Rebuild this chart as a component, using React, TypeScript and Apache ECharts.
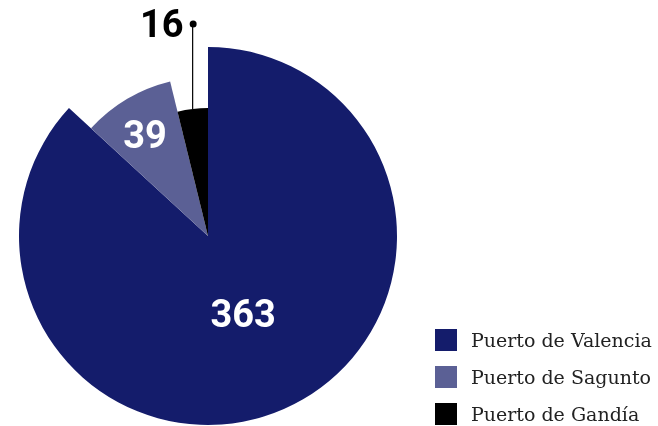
import React, { useEffect, useRef } from "react";
import * as echarts from "echarts";

const categories = ["Puerto de Valencia", "Puerto de Sagunto", "Puerto de Gandía"];
const values = [363, 39, 16];
const colors = ["#141c6b", "#5b6095", "#000000"];
const radii = [189, 159, 128];

export default function App() {
  const ref = useRef<HTMLDivElement>(null);
  useEffect(() => {
    if (!ref.current) return;
    const chart = echarts.init(ref.current, undefined, { renderer: "svg" });
    const series = categories.map((_, si) => ({
      type: "pie",
      center: [208, 236],
      radius: [0, radii[si]],
      startAngle: 90,
      clockwise: true,
      avoidLabelOverlap: false,
      silent: true,
      emphasis: { disabled: true },
      labelLayout:
        si === 2
          ? (params: any) => {
              const p = params.labelLinePoints ? params.labelLinePoints[0] : [193, 109];
              return {
                x: p[0] + 4,
                y: p[1] - 85,
                align: "right",
                verticalAlign: "middle",
                labelLinePoints: [
                  [p[0], p[1]],
                  [p[0], p[1] - 88],
                ],
              };
            }
          : si === 1
          ? () => ({ dx: -21, dy: -30 })
          : () => ({ dx: -4, dy: -11 }),
      data: categories.map((name, i) => {
        const visible = i === si;
        return {
          name,
          value: values[i],
          itemStyle: { color: visible ? colors[i] : "transparent" },
          label: visible
            ? si === 2
              ? {
                  show: true,
                  position: "outside",
                  formatter: "{v|{c}}{g|}{d|}",
                  rich: {
                    v: {
                      fontFamily: "Roboto",
                      fontWeight: "bold",
                      fontSize: 38,
                      color: "#000",
                      lineHeight: 40,
                    },
                    g: { width: 6 },
                    d: {
                      width: 7,
                      height: 7,
                      borderRadius: 4,
                      backgroundColor: "#000",
                      padding: 0,
                    },
                  },
                }
              : {
                  show: true,
                  position: "inside",
                  formatter: "{c}",
                  fontFamily: "Roboto",
                  fontWeight: "bold",
                  fontSize: 38,
                  color: "#ffffff",
                }
            : { show: false },
          labelLine:
            visible && si === 2
              ? { show: true, lineStyle: { color: "#000", width: 1.2 } }
              : { show: false },
        };
      }),
    }));
    chart.setOption({
      animation: false,
      legend: {
        orient: "vertical",
        left: 435,
        top: 329,
        padding: 0,
        itemWidth: 22,
        itemHeight: 22,
        itemGap: 15,
        icon: "rect",
        selectedMode: false,
        textStyle: {
          fontFamily: "DejaVu Serif",
          fontSize: 19,
          color: "#222",
          padding: [0, 0, 0, 9],
        },
        data: categories.map((name, i) => ({
          name,
          itemStyle: { color: colors[i] },
        })),
      },
      series,
    });
    return () => chart.dispose();
  }, []);
  return (
    <div
      ref={ref}
      style={{ position: "fixed", left: 0, top: 0, width: 658, height: 426 }}
    />
  );
}
